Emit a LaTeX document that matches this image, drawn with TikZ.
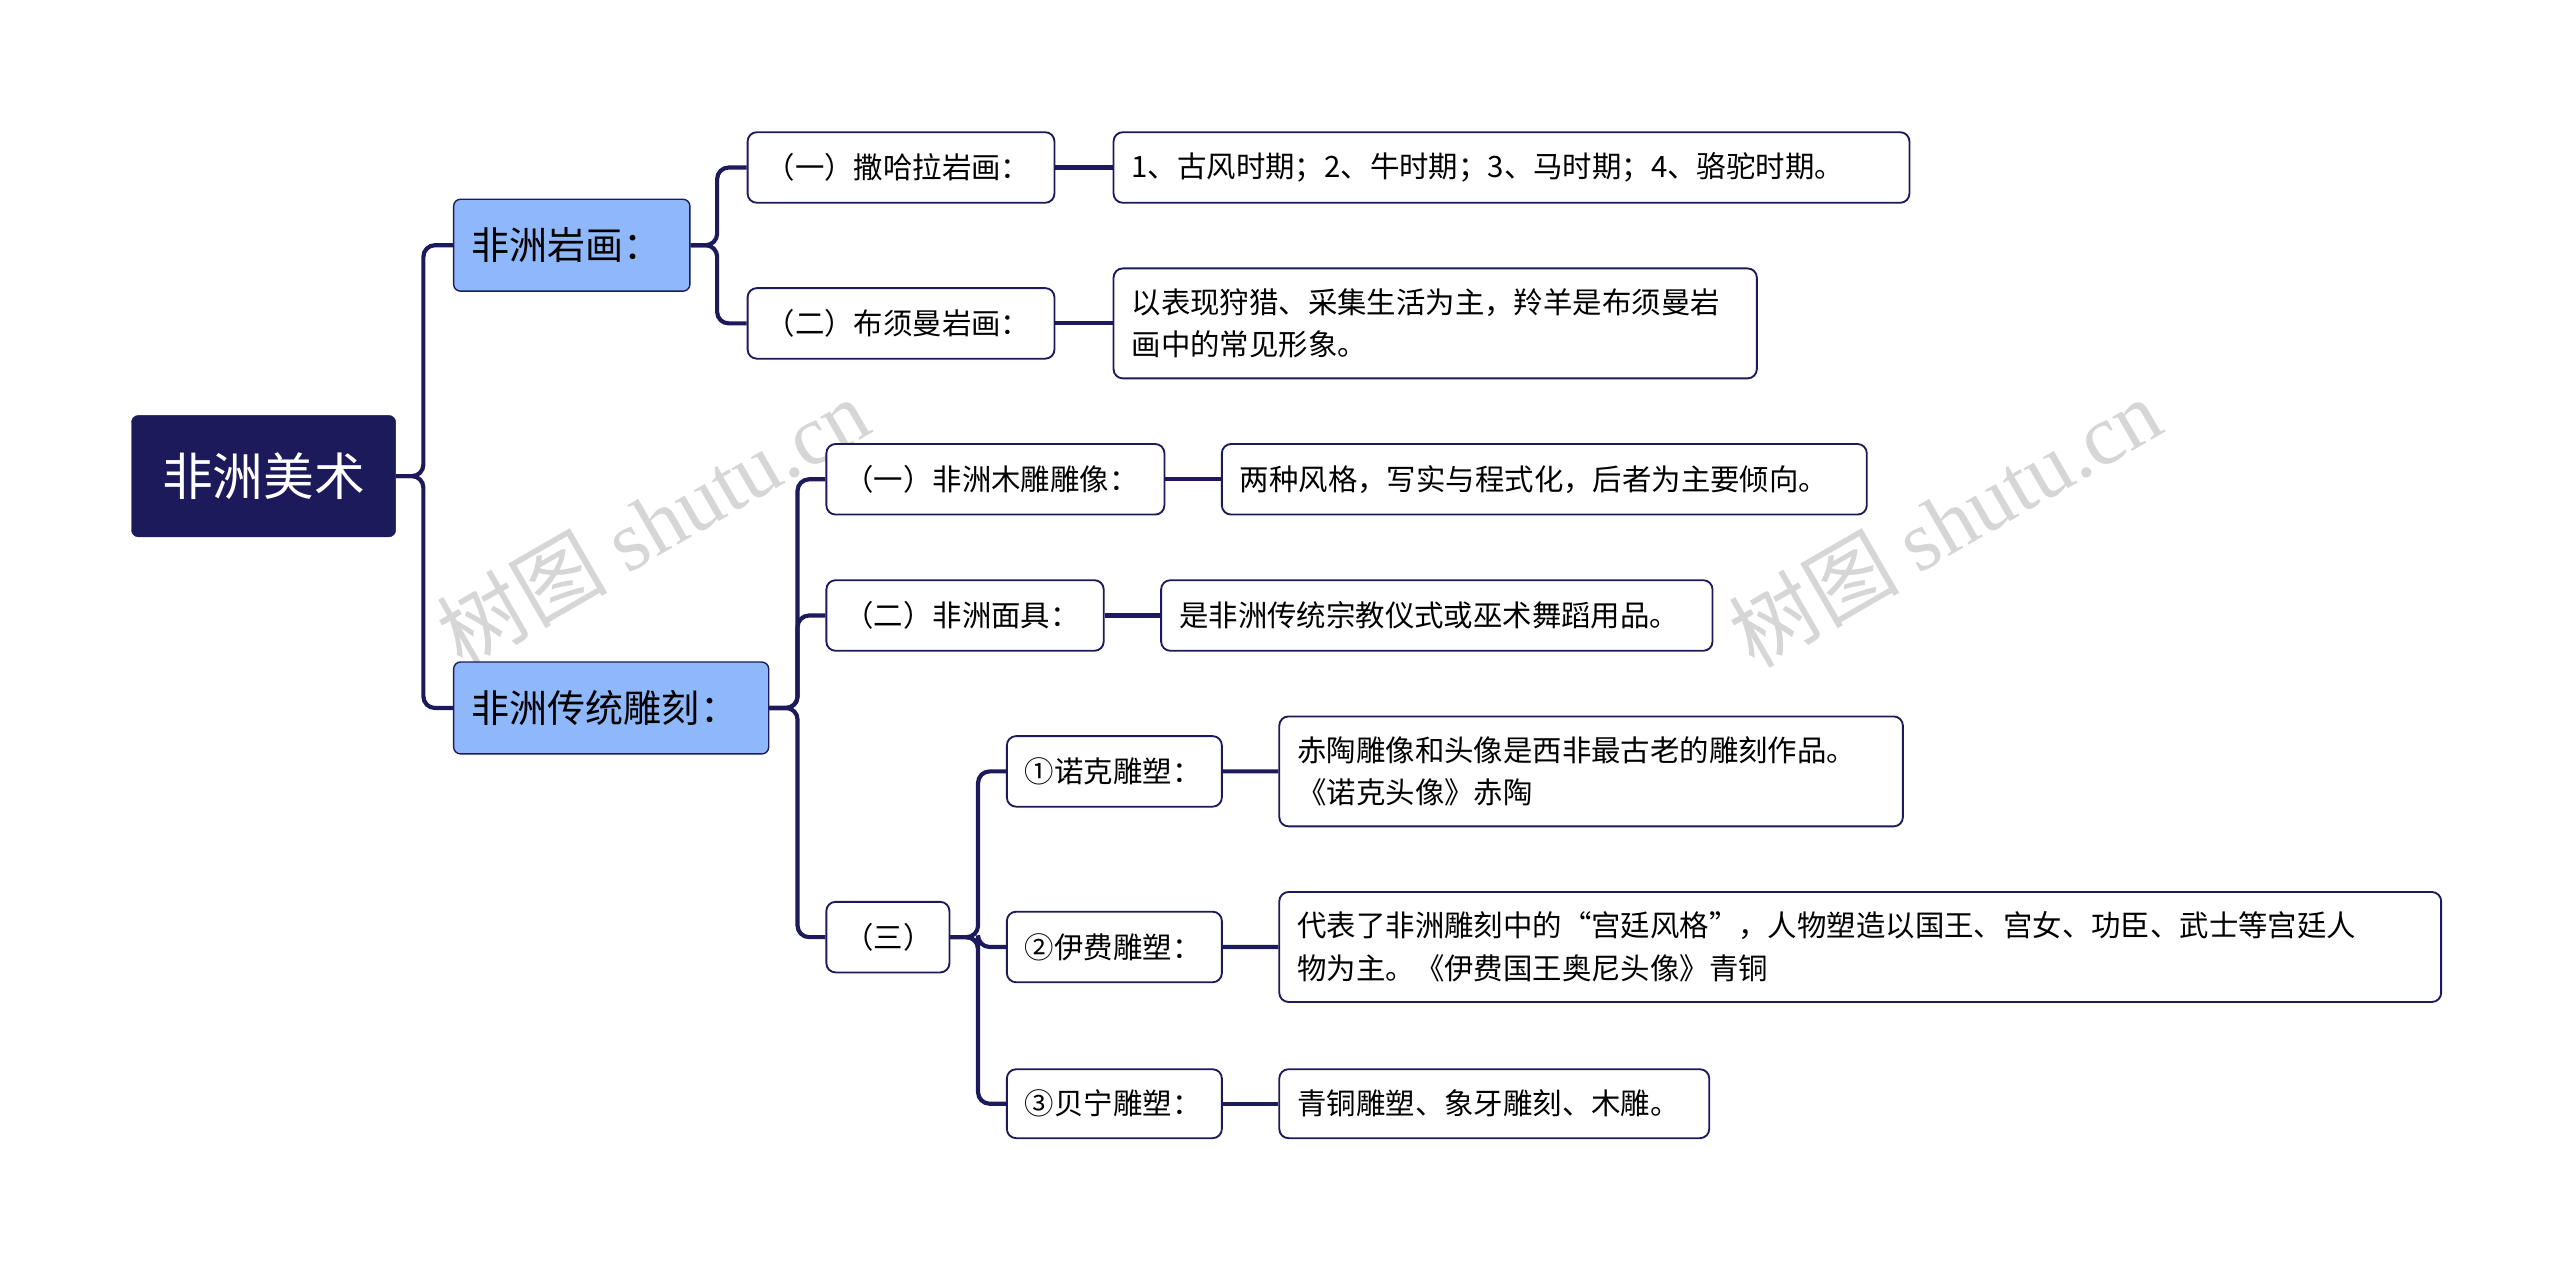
\documentclass[tikz,border=0pt]{standalone}
\usepackage{fontspec}
\setmainfont{Noto Sans CJK SC}
\newfontfamily\wmfont{Liberation Serif}
\newfontfamily\wmcjk{Noto Sans CJK SC}
\definecolor{navy}{HTML}{1C1A5A}
\definecolor{lblue}{HTML}{8FB8FB}
\tikzset{
  conn/.style={draw=navy,line width=3.6pt,rounded corners=10pt},
  rootbox/.style={fill=navy,draw=navy,rounded corners=6pt,text=white,font=\fontsize{44}{52}\selectfont},
  onebox/.style={fill=lblue,draw=navy,line width=1.2pt,rounded corners=6pt,font=\fontsize{33}{40}\selectfont},
  twobox/.style={fill=white,draw=navy,line width=1.6pt,rounded corners=8pt,font=\fontsize{25.5}{37}\selectfont},
  wm/.style={rotate=30,text=black!16,font=\fontsize{74}{80}\selectfont},
}
\newcommand{\bx}[8]{%
  \pgfmathsetmacro{\bw}{(#4-#2)*0.05}%
  \pgfmathsetmacro{\bh}{(#5-#3)*0.05}%
  \pgfmathsetmacro{\tw}{(#4-#2-22)*0.05}%
  \node[#6,anchor=north west,minimum width=\bw cm,minimum height=\bh cm,text width=\tw cm,align=#7,inner xsep=0.55cm,inner ysep=0pt] (#1) at (#2,#3) {#8};}
\begin{document}
\begin{tikzpicture}[x=0.05cm,y=-0.05cm]
\useasboundingbox (0,0) rectangle (1560,770);
\fill[white] (0,0) rectangle (1560,770);
% watermark
\node[wm] at (398,318) {\wmcjk 树图 \wmfont shutu.cn};
\node[wm] at (1185,318) {\wmcjk 树图 \wmfont shutu.cn};
\bx{root}{80}{253}{241}{327}{rootbox}{center}{非洲美术}
\bx{a}{276}{121}{420}{177}{onebox}{left}{非洲岩画：}
\bx{b}{276}{403}{468}{459}{onebox}{left}{非洲传统雕刻：}
\bx{a1}{455}{80}{642}{123}{twobox}{left}{（一）撒哈拉岩画：}
\bx{a2}{455}{175}{642}{218}{twobox}{left}{（二）布须曼岩画：}
\bx{b1}{503}{270}{709}{313}{twobox}{left}{（一）非洲木雕雕像：}
\bx{b2}{503}{353}{672}{396}{twobox}{left}{（二）非洲面具：}
\bx{b3}{503}{549}{578}{592}{twobox}{left}{（三）}
\bx{c1}{613}{448}{744}{491}{twobox}{left}{①诺克雕塑：}
\bx{c2}{613}{555}{744}{598}{twobox}{left}{②伊费雕塑：}
\bx{c3}{613}{651}{744}{693}{twobox}{left}{③贝宁雕塑：}
\bx{la1}{678}{80}{1163}{123}{twobox}{left}{1、古风时期；2、牛时期；3、马时期；4、骆驼时期。}
\bx{la2}{678}{163}{1070}{230}{twobox}{left}{以表现狩猎、采集生活为主，羚羊是布须曼岩\\画中的常见形象。}
\bx{lb1}{744}{270}{1137}{313}{twobox}{left}{两种风格，写实与程式化，后者为主要倾向。}
\bx{lb2}{707}{353}{1043}{396}{twobox}{left}{是非洲传统宗教仪式或巫术舞蹈用品。}
\bx{lc1}{779}{436}{1159}{503}{twobox}{left}{赤陶雕像和头像是西非最古老的雕刻作品。\\《诺克头像》赤陶}
\bx{lc2}{779}{543}{1487}{610}{twobox}{left}{代表了非洲雕刻中的“宫廷风格”，人物塑造以国王、宫女、功臣、武士等宫廷人\\物为主。《伊费国王奥尼头像》青铜}
\bx{lc3}{779}{651}{1041}{693}{twobox}{left}{青铜雕塑、象牙雕刻、木雕。}
\coordinate (k0) at (258,0);
\coordinate (k1) at (437,0);
\coordinate (k2) at (486,0);
\coordinate (k3) at (596,0);
\foreach \c in {a,b} \draw[conn] (root.east) -- (root.east -| k0) |- (\c.west);
\foreach \c in {a1,a2} \draw[conn] (a.east) -- (a.east -| k1) |- (\c.west);
\foreach \c in {b1,b2,b3} \draw[conn] (b.east) -- (b.east -| k2) |- (\c.west);
\foreach \c in {c1,c2,c3} \draw[conn] (b3.east) -- (b3.east -| k3) |- (\c.west);
\draw[conn] (a1.east) -- (la1.west);
\draw[conn] (a2.east) -- (a2.east -| la2.west);
\draw[conn] (b1.east) -- (lb1.west);
\draw[conn] (b2.east) -- (lb2.west);
\draw[conn] (c1.east) -- (lc1.west);
\draw[conn] (c2.east) -- (lc2.west);
\draw[conn] (c3.east) -- (lc3.west);
\end{tikzpicture}
\end{document}
